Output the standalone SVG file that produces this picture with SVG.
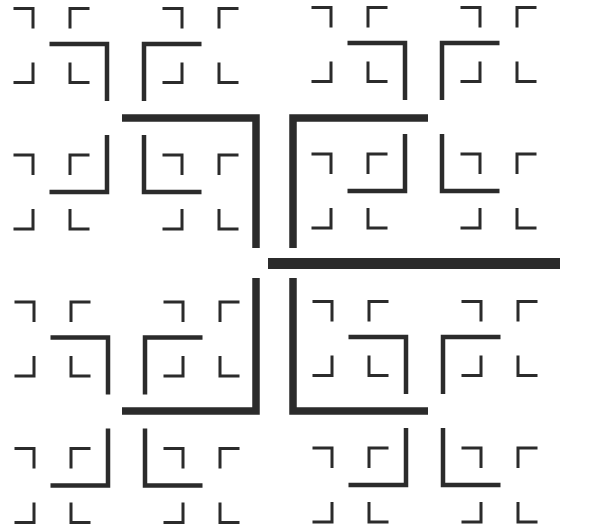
<svg xmlns="http://www.w3.org/2000/svg" xmlns:xlink="http://www.w3.org/1999/xlink" width="601" height="526" viewBox="0 0 601 526">
<style>
  path { fill: none; stroke: #2b2b2b; stroke-linecap: butt; stroke-linejoin: miter; }
  .s { stroke-width: 3; }
  .m { stroke-width: 4.5; }
  .l { stroke-width: 7.5; }
  .c { stroke-width: 11; }
</style>
<defs>
  <g id="small">
    <path class="s" d="M-38,-37 H-18.5 V-17 M38,-37 H18.5 V-17 M-38,37 H-18.5 V17 M38,37 H18.5 V17"/>
  </g>
  <g id="quad">
    <path class="m" d="M-76,-74 H-18.5 V-17 M76,-74 H18.5 V-17 M-76,74 H-18.5 V17 M76,74 H18.5 V17"/>
    <use xlink:href="#small" href="#small" transform="translate(-74,-72.5)"/>
    <use xlink:href="#small" href="#small" transform="translate(75,-72.5)"/>
    <use xlink:href="#small" href="#small" transform="translate(-74,74)"/>
    <use xlink:href="#small" href="#small" transform="translate(75,74)"/>
  </g>
</defs>
<rect width="601" height="526" fill="#ffffff"/>
<g id="quadrants">
  <use id="q-top-left" xlink:href="#quad" href="#quad" transform="translate(125.5,118)"/>
  <use id="q-top-right" xlink:href="#quad" href="#quad" transform="translate(423.5,117)"/>
  <use id="q-bottom-left" xlink:href="#quad" href="#quad" transform="translate(126.5,411.5)"/>
  <use id="q-bottom-right" xlink:href="#quad" href="#quad" transform="translate(424.5,411)"/>
</g>
<g id="large">
  <path class="l" d="M122,118 H256 V248"/>
  <path class="l" d="M428,118 H293 V248"/>
  <path class="l" d="M122,411 H256 V278"/>
  <path class="l" d="M428,411 H293 V278"/>
</g>
<g id="center-bar">
  <path class="c" d="M268,263.5 H560"/>
</g>
</svg>
